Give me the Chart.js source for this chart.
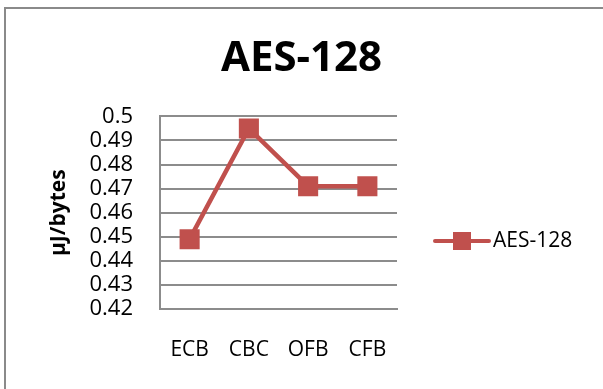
<!DOCTYPE html>
<html>
<head>
<meta charset="utf-8">
<script src="https://cdn.jsdelivr.net/npm/chart.js@4/dist/chart.umd.min.js"></script>
<style>
  html, body { margin: 0; padding: 0; background: #fff; }
  #wrap { position: relative; width: 603px; height: 389px; }
</style>
</head>
<body>
<div id="wrap"><canvas id="c" width="603" height="389"></canvas></div>
<script>
// Energy per byte for AES-128 across block cipher modes
const categories = ['ECB', 'CBC', 'OFB', 'CFB'];
const seriesName = 'AES-128';
const energyPerByte = [0.449, 0.495, 0.471, 0.471];
const yTickLabels = ['0.42', '0.43', '0.44', '0.45', '0.46', '0.47', '0.48', '0.49', '0.5'];
const chartTitle = 'AES-128';
const yAxisTitle = 'µJ/bytes';

const SERIES_COLOR = '#C0504D';
const GRID_COLOR = '#8c8c8c';
const FONT = '"Open Sans", "Liberation Sans", sans-serif';

// White page with a grey frame along the top and left edges
const framePlugin = {
  id: 'frame',
  beforeDraw(chart) {
    const ctx = chart.ctx;
    ctx.save();
    ctx.fillStyle = '#ffffff';
    ctx.fillRect(0, 0, chart.width, chart.height);
    ctx.strokeStyle = '#8a8a8a';
    ctx.lineWidth = 2;
    ctx.beginPath();
    ctx.moveTo(5, chart.height);
    ctx.lineTo(5, 8);
    ctx.lineTo(chart.width, 8);
    ctx.stroke();
    ctx.restore();
  }
};

// Legend entry: line with a square marker, followed by the series label
const lineLegendPlugin = {
  id: 'lineLegend',
  afterDraw(chart) {
    const ds = chart.data.datasets[0];
    const ctx = chart.ctx;
    const y = 241;
    const x0 = 435, x1 = 489;
    ctx.save();
    ctx.strokeStyle = ds.borderColor;
    ctx.lineWidth = 4;
    ctx.lineCap = 'round';
    ctx.beginPath();
    ctx.moveTo(x0, y);
    ctx.lineTo(x1, y);
    ctx.stroke();
    ctx.fillStyle = ds.pointBackgroundColor;
    ctx.fillRect(453, y - 9, 18, 18);
    ctx.fillStyle = '#000000';
    ctx.font = '21px ' + FONT;
    ctx.textBaseline = 'middle';
    ctx.textAlign = 'left';
    ctx.fillText(ds.label, 493, y);
    ctx.restore();
  }
};

new Chart(document.getElementById('c'), {
  type: 'line',
  data: {
    labels: categories,
    datasets: [{
      label: seriesName,
      data: energyPerByte,
      borderColor: SERIES_COLOR,
      backgroundColor: SERIES_COLOR,
      borderWidth: 4.5,
      pointStyle: 'rect',
      pointRadius: 14.2,
      pointHoverRadius: 14.2,
      pointBorderWidth: 0,
      pointBackgroundColor: SERIES_COLOR,
      tension: 0
    }]
  },
  options: {
    responsive: false,
    animation: false,
    devicePixelRatio: 1,
    layout: { padding: 0 },
    plugins: {
      legend: { display: false },
      tooltip: { enabled: false },
      title: {
        display: true,
        text: chartTitle,
        color: '#000000',
        font: { family: FONT, size: 42, weight: 'bold', lineHeight: 1.2 },
        padding: { top: 34, bottom: 32 }
      }
    },
    scales: {
      x: {
        type: 'category',
        offset: true,
        grid: { display: false, drawTicks: false },
        border: { display: true, color: GRID_COLOR, width: 2 },
        ticks: {
          color: '#000000',
          font: { family: FONT, size: 21 },
          padding: 28,
          maxRotation: 0,
          autoSkip: false
        },
        afterFit(scale) { scale.height = 80; }
      },
      y: {
        min: 0.42,
        max: 0.5,
        grid: { color: GRID_COLOR, lineWidth: 2, drawTicks: false },
        border: { display: true, color: GRID_COLOR, width: 2 },
        ticks: {
          stepSize: 0.01,
          autoSkip: false,
          color: '#000000',
          font: { family: FONT, size: 22 },
          padding: 27,
          callback: (value, index) => yTickLabels[index]
        },
        title: {
          display: true,
          text: yAxisTitle,
          color: '#000000',
          font: { family: FONT, size: 21, weight: 'bold', lineHeight: 1.2 },
          padding: { top: 46, bottom: 0 }
        },
        afterFit(scale) { scale.width = 160; }
      },
      // Empty right-hand column that holds the legend
      legendSpace: {
        type: 'linear',
        position: 'right',
        grid: { display: false, drawTicks: false },
        border: { display: false },
        ticks: { display: false },
        afterFit(scale) { scale.width = 206; }
      }
    }
  },
  plugins: [framePlugin, lineLegendPlugin]
});
</script>
</body>
</html>
